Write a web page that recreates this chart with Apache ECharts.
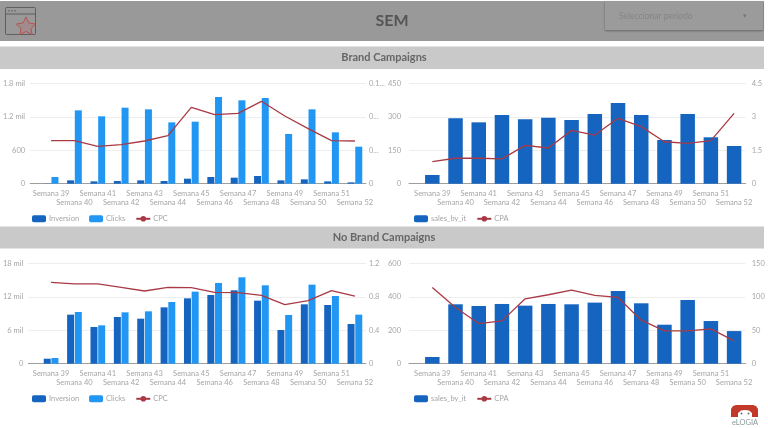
<!DOCTYPE html>
<html><head><meta charset="utf-8">
<style>html,body{margin:0;padding:0;background:#fff}#c{width:768px;height:428px}</style>
<script src="https://cdn.jsdelivr.net/npm/echarts@6/dist/echarts.min.js"></script>
</head><body><div id="c"></div>
<script>
const categories=['Semana 39','Semana 40','Semana 41','Semana 42','Semana 43','Semana 44','Semana 45','Semana 46','Semana 47','Semana 48','Semana 49','Semana 50','Semana 51','Semana 52'];
const brandInversion=[3,60,42,48,60,48,90,120,108,138,60,78,42,24];
const brandClicks=[120,1315,1208,1363,1333,1100,1112,1555,1495,1537,891,1333,921,664];
const brandCPC=[.0643,.0643,.0558,.0583,.0638,.0718,.1141,.1032,.1051,.1231,.1012,.0822,.0643,.0638];
const brandSales=[39,293,275,308,289,296,286,312,362,308,196,312,208,169];
const brandCPA=[.99,1.14,1.14,1.11,1.72,1.6,2.39,2.18,2.93,2.56,1.88,1.81,1.93,3.15];
const noBrandInversion=[897,8791,6578,8372,8073,10106,11721,12319,13156,11302,6040,10644,10525,7116];
const noBrandClicks=[1017,9269,6877,9209,9389,11063,12917,14472,15488,14053,8731,14173,12139,8791];
const noBrandCPC=[.973,.953,.953,.913,.869,.913,.909,.853,.849,.817,.706,.753,.873,.809];
const noBrandSales=[40,355,345,357,347,357,355,365,434,361,233,381,255,195];
const noBrandCPA=[114,84,60,64,97,103,110,102,99,65,49,49,52,34];
const leftTicks1={1800:'1.8 mil',1200:'1.2 mil',600:'600',0:'0'};
const rightTicks1={0.15:'0.1...',0.1:'0...',0.05:'0...',0:'0'};
const leftTicks3={18000:'18 mil',12000:'12 mil',6000:'6 mil',0:'0'};

const FONT='Lato, "Open Sans", sans-serif';
const DARK='#1565c0',LIGHT='#2196f3',RED='#a93a45',GREY='#a6a6a6';
const grids=[],xAxes=[],yAxes=[],series=[],legends=[];

function panel(p){
  const bg=grids.length, data=bg+1;
  const h={top:p.top,height:100.4};
  grids.push({left:p.axisL,width:p.axisR-p.axisL,...h});
  grids.push({left:p.dataL,width:p.dataR-p.dataL,...h});
  // full-width backdrop: gridlines and baseline
  xAxes.push({gridIndex:bg,type:'value',min:0,max:1,show:true,axisLine:{show:true,onZero:false,lineStyle:{color:'#9e9e9e',width:1}},axisTick:{show:false},axisLabel:{show:false},splitLine:{show:false}});
  const yb=yAxes.length;
  yAxes.push({gridIndex:bg,type:'value',min:0,max:p.lmax,interval:p.lmax/3,axisLine:{show:false},axisTick:{show:false},
    axisLabel:{color:GREY,fontSize:7.5,fontFamily:FONT,margin:p.lm,formatter:v=>p.lfmt?p.lfmt[v]:String(v)},splitLine:{lineStyle:{color:'#eeeeee',width:1}}});
  yAxes.push({gridIndex:bg,type:'value',position:'right',min:0,max:p.rmax,interval:p.rmax/3,axisLine:{show:false},axisTick:{show:false},
    axisLabel:{color:GREY,fontSize:7.5,fontFamily:FONT,margin:p.rm,formatter:v=>{const k=+v.toFixed(4);return p.rfmt?(p.rfmt[k]!==undefined?p.rfmt[k]:String(k)):String(k);}},splitLine:{show:false}});
  // data layer
  xAxes.push({gridIndex:data,type:'category',data:categories,boundaryGap:true,axisLine:{show:false},axisTick:{show:false},
    axisLabel:{interval:0,color:GREY,fontSize:7.5,fontFamily:FONT,margin:5,lineHeight:9,hideOverlap:false,formatter:(v,i)=>i%2?'\n'+v:v+'\n'},splitLine:{show:false}});
  const xd=xAxes.length-1;
  yAxes.push({gridIndex:data,type:'value',min:0,max:p.lmax,show:false,splitLine:{show:false}});
  yAxes.push({gridIndex:data,type:'value',min:0,max:p.rmax,show:false,splitLine:{show:false}});
  const yl=yb+2,yr=yb+3;
  const names=[];
  p.bars.forEach(b=>{
    series.push({type:'bar',name:b.name,data:b.data,xAxisIndex:xd,yAxisIndex:yl,barWidth:p.bw,barGap:'10%',itemStyle:{color:b.color},silent:true,animation:false});
    names.push(b.name);
  });
  series.push({type:'line',name:p.line.name,data:p.line.data,xAxisIndex:xd,yAxisIndex:yr,symbol:'none',smooth:false,lineStyle:{color:RED,width:1.3},itemStyle:{color:RED},silent:true,animation:false});
  names.push(p.line.name);
  legends.push({left:p.legL,top:p.top+126.5,itemWidth:14,itemHeight:7,itemGap:10,data:names,selectedMode:false,textStyle:{color:GREY,fontSize:7.5,fontFamily:FONT,padding:[0,0,0,-2]}});
}

panel({top:83.3,axisL:28,axisR:366,dataL:39.4,dataR:366.6,lmax:1800,rmax:0.15,lfmt:leftTicks1,rfmt:rightTicks1,lm:5,rm:3,bw:7,legL:27,
  bars:[{name:'Inversion',data:brandInversion,color:DARK},{name:'Clicks',data:brandClicks,color:LIGHT}],line:{name:'CPC',data:brandCPC}});
panel({top:83.3,axisL:409,axisR:745.7,dataL:420.7,dataR:745.7,lmax:450,rmax:4.5,lm:8,rm:6,bw:14.5,legL:409,
  bars:[{name:'sales_by_it',data:brandSales,color:DARK}],line:{name:'CPA',data:brandCPA}});
panel({top:263.3,axisL:28,axisR:366,dataL:39.4,dataR:366.6,lmax:18000,rmax:1.2,lfmt:leftTicks3,lm:5,rm:3,bw:7,legL:27,
  bars:[{name:'Inversion',data:noBrandInversion,color:DARK},{name:'Clicks',data:noBrandClicks,color:LIGHT}],line:{name:'CPC',data:noBrandCPC}});
panel({top:263.3,axisL:409,axisR:745.7,dataL:420.7,dataR:745.7,lmax:600,rmax:150,lm:8,rm:6,bw:14.5,legL:409,
  bars:[{name:'sales_by_it',data:noBrandSales,color:DARK}],line:{name:'CPA',data:noBrandCPA}});

const graphic=[
 {type:'rect',z:-1,shape:{x:0,y:1,width:764,height:40},style:{fill:'#999999'}},
 {type:'rect',z:-1,shape:{x:0,y:46.5,width:764,height:22.5},style:{fill:'#c9c9c9'}},
 {type:'rect',z:-1,shape:{x:0,y:226.5,width:764,height:22},style:{fill:'#c9c9c9'}},
 {type:'text',style:{x:392,y:21,text:'SEM',fill:'#555555',font:'bold 16px '+FONT,align:'center',verticalAlign:'middle'}},
 {type:'text',style:{x:384,y:57.5,text:'Brand Campaigns',fill:'#666666',font:'bold 11px '+FONT,align:'center',verticalAlign:'middle'}},
 {type:'text',style:{x:384,y:237.5,text:'No Brand Campaigns',fill:'#666666',font:'bold 11px '+FONT,align:'center',verticalAlign:'middle'}},
 // period selector
 {type:'rect',shape:{x:605,y:1,width:158,height:29},style:{fill:'#9b9b9b',shadowBlur:2,shadowColor:'rgba(0,0,0,.35)',shadowOffsetY:1}},
 {type:'text',style:{x:619,y:16,text:'Seleccionar período',fill:'#858585',font:'8.5px '+FONT,verticalAlign:'middle'}},
 {type:'text',style:{x:745,y:16,text:'▾',fill:'#777777',font:'7px '+FONT,align:'center',verticalAlign:'middle'}},
 // window / star icon
 {type:'rect',shape:{x:5.5,y:7.5,width:30,height:27,r:1},style:{fill:'none',stroke:'#5f5f5f',lineWidth:1}},
 {type:'line',shape:{x1:5.5,y1:14,x2:35.5,y2:14},style:{stroke:'#5f5f5f',lineWidth:1}},
 {type:'circle',shape:{cx:9,cy:10.8,r:.8},style:{fill:'#5f5f5f'}},
 {type:'circle',shape:{cx:12,cy:10.8,r:.8},style:{fill:'#5f5f5f'}},
 {type:'circle',shape:{cx:15,cy:10.8,r:.8},style:{fill:'#5f5f5f'}},
 {type:'polygon',shape:{points:[[26,17],[29,23],[35.5,24],[31,28.5],[32,34.5],[26,31.5],[20,34.5],[21,28.5],[16.5,24],[23,23]]},style:{fill:'#a08c8c',stroke:'#b9504e',lineWidth:1}},
 // elogia logo
 {type:'polygon',shape:{points:[[731,417],[731,409],[733,406],[736,405],[753,405],[756,406],[758,409],[758,417],[752,417],[752,413],[749,410.5],[745,410],[741,410.5],[738,413],[738,417]]},style:{fill:'#c0392b'}},
 {type:'circle',shape:{cx:741.5,cy:413.5,r:1},style:{fill:'#7a6a6a'}},
 {type:'circle',shape:{cx:748.5,cy:413.5,r:1},style:{fill:'#7a6a6a'}},
 {type:'text',style:{x:745,y:422.5,text:'eLOGIA',fill:'#8a9a9a',font:'7.5px '+FONT,align:'center',verticalAlign:'middle'}}
];

const chart=echarts.init(document.getElementById('c'),null,{renderer:'canvas'});
chart.setOption({animation:false,backgroundColor:'#fff',grid:grids,xAxis:xAxes,yAxis:yAxes,series,legend:legends,graphic:{elements:graphic}});
</script></body></html>
